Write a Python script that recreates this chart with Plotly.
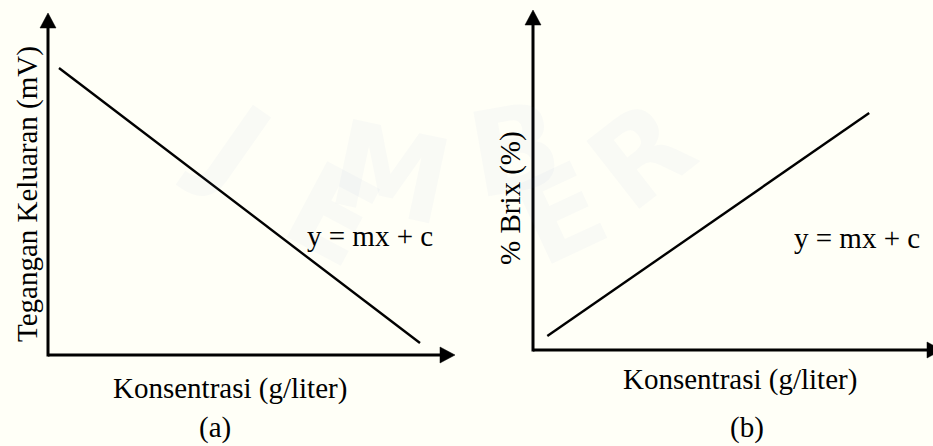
import plotly.graph_objects as go

# ---- schematic data (arbitrary units) ----
konsentrasi_a = [0.27, 9.14]
tegangan_a = [8.39, 0.35]
konsentrasi_b = [0.35, 8.22]
brix_b = [0.41, 6.97]

x_title = "Konsentrasi (g/liter)"
y_title_a = "Tegangan Keluaran (mV)"
y_title_b = "% Brix (%)"
equation = "y = mx + c"
panel_tags = ["(a)", "(b)"]
watermark_letters = ["J", "E", "M", "B", "E", "R"]

# ---- page geometry (pixels) ----
W, H = 933, 446
SERIF = "Liberation Serif, Times New Roman, serif"
FS = 29
INK = "#000000"
BG = "#fffff7"


def px(x):
    return x / W


def py(y):
    return 1 - y / H


# panel boxes: origin of axes and arrow tips in page pixels
panel_a = dict(ox=48, oy=355, xtip=455, ytip=13)
panel_b = dict(ox=533, oy=350, xtip=942, ytip=10)
HEAD_LEN, HEAD_HALF = 15, 8

fig = go.Figure()

# line traces on each panel's own axes
fig.add_trace(go.Scatter(x=konsentrasi_a, y=tegangan_a, mode="lines",
                         line=dict(color=INK, width=2.4),
                         xaxis="x", yaxis="y", hoverinfo="skip"))
fig.add_trace(go.Scatter(x=konsentrasi_b, y=brix_b, mode="lines",
                         line=dict(color=INK, width=2.4),
                         xaxis="x2", yaxis="y2", hoverinfo="skip"))


def axes_for(p, right_edge):
    xd0 = px(p["ox"])
    xd1 = min(px(right_edge), 1.0)
    xr = (min(right_edge, W) - p["ox"]) / (p["xtip"] - p["ox"]) * 10
    yd0 = py(p["oy"])
    yd1 = py(p["ytip"])
    xa = dict(domain=[xd0, xd1], range=[0, xr], showgrid=False,
              zeroline=False, showticklabels=False, ticks="",
              showline=False, fixedrange=True)
    ya = dict(domain=[yd0, yd1], range=[0, 10], showgrid=False,
              zeroline=False, showticklabels=False, ticks="",
              showline=False, fixedrange=True)
    return xa, ya


xa1, ya1 = axes_for(panel_a, panel_a["xtip"])
xa2, ya2 = axes_for(panel_b, panel_b["xtip"])
ya1["anchor"] = "x"
xa1["anchor"] = "y"
xa2["anchor"] = "y2"
ya2["anchor"] = "x2"

shapes = []
for p in (panel_a, panel_b):
    # axis lines
    shapes.append(dict(type="line", xref="paper", yref="paper",
                       x0=px(p["ox"]), y0=py(p["oy"]),
                       x1=px(p["xtip"] - HEAD_LEN + 2), y1=py(p["oy"]),
                       line=dict(color=INK, width=3)))
    shapes.append(dict(type="line", xref="paper", yref="paper",
                       x0=px(p["ox"]), y0=py(p["oy"] + 1.5),
                       x1=px(p["ox"]), y1=py(p["ytip"] + HEAD_LEN - 2),
                       line=dict(color=INK, width=3)))
    # arrow heads
    tx, ty = p["xtip"], p["oy"]
    shapes.append(dict(type="path", xref="paper", yref="paper",
                       path=f"M {px(tx)},{py(ty)} L {px(tx - HEAD_LEN)},{py(ty - HEAD_HALF)} "
                            f"L {px(tx - HEAD_LEN)},{py(ty + HEAD_HALF)} Z",
                       fillcolor=INK, line=dict(color=INK, width=0.5)))
    tx, ty = p["ox"], p["ytip"]
    shapes.append(dict(type="path", xref="paper", yref="paper",
                       path=f"M {px(tx)},{py(ty)} L {px(tx - HEAD_HALF)},{py(ty + HEAD_LEN)} "
                            f"L {px(tx + HEAD_HALF)},{py(ty + HEAD_LEN)} Z",
                       fillcolor=INK, line=dict(color=INK, width=0.5)))

annotations = []

# faint watermark lettering along an arc
wm_pos = [(170, 72, 35), (262, 132, 28), (390, 173, 12),
          (515, 150, -10), (630, 132, -25), (723, 70, -38)]
for ch, (x, y, ang) in zip(watermark_letters, wm_pos):
    annotations.append(dict(text=ch, x=px(x), y=py(y), xref="paper", yref="paper",
                            showarrow=False, textangle=ang,
                            font=dict(family="DejaVu Sans", size=118, weight=700,
                                      color="rgba(100,120,200,0.04)")))


def label(text, x, y, angle=0):
    annotations.append(dict(text=text, x=px(x), y=py(y), xref="paper", yref="paper",
                            showarrow=False, textangle=angle, borderpad=0,
                            xanchor="center", yanchor="middle",
                            font=dict(family=SERIF, size=FS, color=INK)))


label(y_title_a, 28, 194, -90)
label(x_title, 230, 388)
label(equation, 370, 236)
label(panel_tags[0], 215, 427)

label(y_title_b, 511, 198, -90)
label(x_title, 740, 379)
label(equation, 857, 238)
label(panel_tags[1], 747, 427)

fig.update_layout(
    width=W, height=H,
    margin=dict(l=0, r=0, t=0, b=0),
    paper_bgcolor=BG, plot_bgcolor="rgba(0,0,0,0)",
    showlegend=False,
    xaxis=xa1, yaxis=ya1, xaxis2=xa2, yaxis2=ya2,
    shapes=shapes, annotations=annotations,
)

fig.write_html("out.html", config={"displayModeBar": False})
